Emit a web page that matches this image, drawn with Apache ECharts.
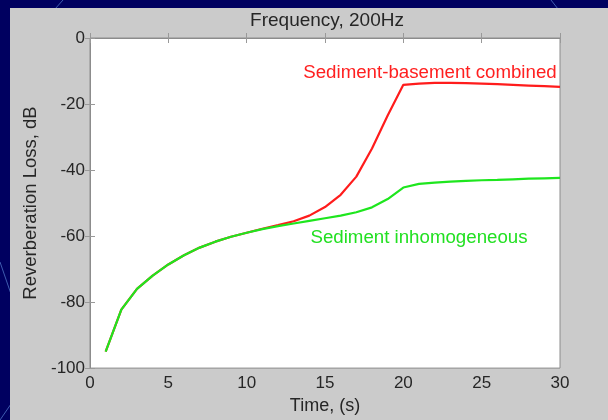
<!DOCTYPE html>
<html>
<head>
<meta charset="utf-8">
<script src="https://cdn.jsdelivr.net/npm/echarts@6/dist/echarts.min.js"></script>
<style>
html,body{margin:0;padding:0;background:#000060;}
#chart{width:608px;height:420px;}
</style>
</head>
<body>
<div id="chart"></div>
<script>
const timeS = [1,2,3,4,5,6,7,8,9,10,11,12,13,14,15,16,17,18,19,20,21,22,23,24,25,26,27,28,29,30];
const combined = [-95,-82.3,-76,-72,-68.6,-65.8,-63.5,-61.7,-60.2,-59,-57.8,-56.7,-55.5,-53.8,-51.2,-47.5,-42,-33.5,-23.5,-14.2,-13.8,-13.6,-13.6,-13.7,-13.8,-14,-14.2,-14.4,-14.6,-14.8];
const inhomogeneous = [-95,-82.3,-76,-72,-68.6,-65.8,-63.5,-61.7,-60.2,-59,-57.9,-57,-56.2,-55.4,-54.6,-53.8,-52.8,-51.3,-48.8,-45.3,-44.2,-43.8,-43.5,-43.3,-43.1,-43,-42.8,-42.6,-42.5,-42.4];
const titleText = 'Frequency, 200Hz';
const xName = 'Time, (s)';
const yName = 'Reverberation Loss, dB';
const labelCombined = 'Sediment-basement combined';
const labelInhomog = 'Sediment inhomogeneous';
const labelCombinedAt = [21.7, -10.7];
const labelInhomogAt = [21.0, -60.5];

const FONT = '"Liberation Sans", Arial, sans-serif';
const TXT = '#262626';
const chart = echarts.init(document.getElementById('chart'));
const pairs = a => timeS.map((t, i) => [t, a[i]]);
const boxLine = {show: true, lineStyle: {color: '#8c8c8c', width: 1}};
const tick = {show: true, inside: true, length: 5, lineStyle: {color: '#999', width: 1}};

chart.setOption({
  backgroundColor: '#000060',
  animation: false,
  title: {
    text: titleText, left: 322, top: 6, textAlign: 'center',
    textStyle: {fontFamily: FONT, fontSize: 19, fontWeight: 'normal', color: TXT}
  },
  graphic: [
    {type: 'line', z: -20, shape: {x1: 63, y1: 0, x2: 55, y2: 9}, style: {stroke: '#3f5cb0', lineWidth: 1}},
    {type: 'line', z: -20, shape: {x1: 551, y1: 0, x2: 558, y2: 9}, style: {stroke: '#3f5cb0', lineWidth: 1}},
    {type: 'line', z: -20, shape: {x1: 0, y1: 262, x2: 11, y2: 294}, style: {stroke: '#3f5cb0', lineWidth: 1}},
    {type: 'line', z: -20, shape: {x1: 0, y1: 420, x2: 11, y2: 404}, style: {stroke: '#3f5cb0', lineWidth: 1}},
    {type: 'rect', z: -10, shape: {x: 10, y: 8, width: 598, height: 412}, style: {fill: '#cbcbcb'}}
  ],
  grid: {left: 90, right: 48, top: 38, bottom: 44, show: true, backgroundColor: '#ffffff', borderColor: '#8c8c8c', borderWidth: 1},
  xAxis: [
    {
      type: 'value', min: 0, max: 30, interval: 5, position: 'bottom',
      name: xName, nameLocation: 'middle', nameGap: 23,
      nameTextStyle: {fontFamily: FONT, fontSize: 18, color: TXT},
      axisLine: boxLine, axisTick: tick, splitLine: {show: false},
      axisLabel: {fontFamily: FONT, fontSize: 17, color: TXT, margin: 7}
    },
    {
      type: 'value', min: 0, max: 30, interval: 5, position: 'top',
      axisLine: boxLine, axisTick: tick, splitLine: {show: false}, axisLabel: {show: false}
    }
  ],
  yAxis: [
    {
      type: 'value', min: -100, max: 0, interval: 20, position: 'left',
      name: yName, nameLocation: 'middle', nameGap: 40,
      nameTextStyle: {fontFamily: FONT, fontSize: 18.5, color: TXT},
      axisLine: boxLine, axisTick: tick, splitLine: {show: false},
      axisLabel: {fontFamily: FONT, fontSize: 17, color: TXT, margin: 5}
    },
    {
      type: 'value', min: -100, max: 0, interval: 20, position: 'right',
      axisLine: boxLine, axisTick: tick, splitLine: {show: false}, axisLabel: {show: false}
    }
  ],
  series: [
    {
      type: 'line', data: pairs(combined), showSymbol: false, symbol: 'none',
      lineStyle: {color: '#ff1c1c', width: 2.2}, itemStyle: {color: '#ff1c1c'},
      markPoint: {
        symbol: 'circle', symbolSize: 0,
        data: [{coord: labelCombinedAt}],
        label: {show: true, position: 'inside', formatter: labelCombined, fontFamily: FONT, fontSize: 18.7, color: '#ff2020'}
      }
    },
    {
      type: 'line', data: pairs(inhomogeneous), showSymbol: false, symbol: 'none',
      lineStyle: {color: '#1ee61e', width: 2.2}, itemStyle: {color: '#1ee61e'},
      markPoint: {
        symbol: 'circle', symbolSize: 0,
        data: [{coord: labelInhomogAt}],
        label: {show: true, position: 'inside', formatter: labelInhomog, fontFamily: FONT, fontSize: 18.7, color: '#22e022'}
      }
    }
  ]
});
</script>
</body>
</html>
